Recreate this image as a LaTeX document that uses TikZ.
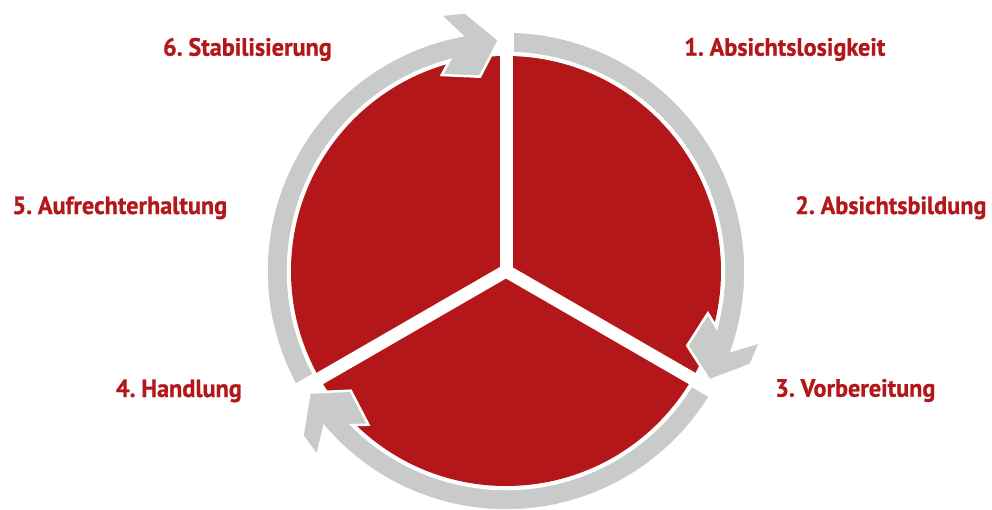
\documentclass[tikz,border=0pt]{standalone}
\usepackage{fontspec}
\newfontfamily\lblfont{PT Sans}[FakeStretch=0.97,WordSpace=0.6,FakeBold=0.8]
\definecolor{cyclered}{HTML}{B3171A}
\definecolor{ringgray}{HTML}{C9CBCA}
\begin{document}
\begin{tikzpicture}[x=1pt,y=1pt,
  sector/.style={fill=cyclered},
  divider/.style={draw=white,line width=13pt,line cap=butt},
  ringarrow/.style={fill=ringgray,draw=white,line width=2.5pt,line join=miter},
  stagelabel/.style={inner sep=0pt,text=cyclered,font=\lblfont\bfseries\fontsize{25}{30}\selectfont}]
  % canvas, centred on the disc
  \useasboundingbox (-506,-238) rectangle (486,271);
  \coordinate (c) at (0,0);

  % red disc split into three sectors
  \fill[sector] (c) circle[radius=215];
  \foreach \ang in {90,210,330}
    \draw[divider] (c) -- (\ang:217);

  % three curved arrows around the disc, one per third
  \foreach \rot in {0,-120,-240}{
    \path[ringarrow,rotate=\rot]
      (208.44:239.5) arc[start angle=208.44,end angle=100.6,radius=239.5]
      -- (-66,256) -- (-41,258.7) -- (-7,231) -- (-26,194.3) -- (-64.3,196)
      -- (105:218) arc[start angle=105,end angle=208.29,radius=218] -- cycle;
  }

  % stage labels
  \node[stagelabel,anchor=base west] (s1) at (178,215.3) {1. Absichtslosigkeit};
  \node[stagelabel,anchor=base west] (s2) at (289,57) {2. Absichtsbildung};
  \node[stagelabel,anchor=base west] (s3) at (269,-125.7) {3. Vorbereitung};
  \node[stagelabel,anchor=base east] (s4) at (-264,-126) {4. Handlung};
  \node[stagelabel,anchor=base east] (s5) at (-278.7,57) {5. Aufrechterhaltung};
  \node[stagelabel,anchor=base east] (s6) at (-174,215.3) {6. Stabilisierung};
\end{tikzpicture}
\end{document}
